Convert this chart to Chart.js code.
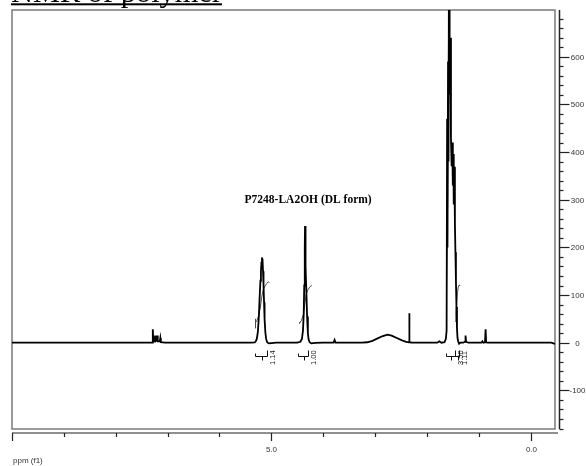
<!DOCTYPE html>
<html>
<head>
<meta charset="utf-8">
<title>NMR of polymer</title>
<script src="https://cdn.jsdelivr.net/npm/chart.js@4.4.1/dist/chart.umd.min.js"></script>
<style>
  html, body { margin: 0; padding: 0; background: #fff; }
  #wrap { width: 586px; height: 466px; position: relative; }
</style>
</head>
<body>
<div id="wrap"><canvas id="nmr"></canvas></div>
<script>
// 1H NMR spectrum: [ppm, intensity]
const spectrum = [
  [10.0, 0], [7.40, 0], [7.30, 0.5], [7.285, 28], [7.275, 2], [7.25, 4], [7.24, 15], [7.23, 3],
  [7.205, 5], [7.20, 15], [7.19, 3], [7.15, 3], [7.14, 10], [7.13, 1], [7.05, 0],
  [5.40, 0], [5.32, 0.5], [5.30, 3], [5.28, 8], [5.26, 22], [5.24, 55], [5.225, 95], [5.21, 130],
  [5.20, 150], [5.19, 168], [5.18, 179], [5.175, 160], [5.17, 176], [5.16, 150], [5.15, 120],
  [5.14, 85], [5.13, 50], [5.115, 22], [5.10, 8], [5.08, 1], [5.05, -1.5], [5.00, -1], [4.90, 0],
  [4.50, 0], [4.44, 2], [4.41, 8], [4.39, 25], [4.375, 60], [4.365, 120], [4.355, 200], [4.35, 245],
  [4.345, 190], [4.34, 230], [4.335, 160], [4.325, 110], [4.31, 55], [4.295, 20], [4.28, 6],
  [4.26, 1], [4.23, -1.5], [4.15, -0.5], [4.0, 0],
  [3.80, 0], [3.78, 6], [3.76, 0],
  [3.25, 0], [3.15, 1], [3.05, 4], [2.95, 9], [2.85, 14], [2.76, 17], [2.68, 15], [2.58, 10],
  [2.48, 5], [2.40, 2], [2.345, 1], [2.340, 62], [2.335, 1], [2.30, 0.5], [2.0, 0],
  [1.80, 0], [1.76, 3], [1.72, 0], [1.66, 1], [1.635, 8], [1.62, 25], [1.61, 470], [1.603, 200],
  [1.592, 590], [1.583, 380], [1.572, 950], [1.562, 520], [1.548, 640], [1.536, 430], [1.523, 370],
  [1.512, 420], [1.500, 330], [1.492, 396], [1.482, 290], [1.470, 369], [1.460, 250], [1.450, 190],
  [1.440, 130], [1.430, 75], [1.420, 30], [1.410, 10], [1.395, 2], [1.38, -2], [1.36, 0],
  [1.30, 0], [1.265, 2], [1.255, 15], [1.245, 2], [1.20, 0],
  [0.95, 0], [0.93, 3], [0.91, 0], [0.88, 1], [0.868, 28], [0.858, 1], [0.83, 0],
  [-0.40, 0], [-0.45, -2], [-0.47, -2]
];

// integral curves
const integralA = [[5.305, 30], [5.305, 50], [5.305, 42], [5.28, 46], [5.24, 58], [5.21, 75], [5.19, 92],
  [5.17, 105], [5.15, 113], [5.12, 119], [5.09, 124], [5.07, 127], [5.05, 127.5], [5.035, 126]];
const integralB = [[4.46, 40], [4.44, 42], [4.46, 42], [4.42, 46], [4.38, 60], [4.35, 85], [4.33, 100],
  [4.30, 110], [4.27, 115], [4.25, 118], [4.23, 120], [4.215, 119]];
const integralC = [[1.625, 30], [1.625, 50], [1.625, 42], [1.615, 110], [1.60, 300], [1.585, 600], [1.57, 950]];
const integralD = [[1.455, 45], [1.44, 62], [1.425, 85], [1.41, 105], [1.395, 117], [1.38, 121], [1.365, 120]];

// integration brackets under the baseline
const intStart = [5.31, 4.48, 1.625, 1.45];
const intEnd = [5.085, 4.29, 1.45, 1.38];
const intLabels = ['1.14', '1.00', '3.50', '1.11'];

// axes
const ppmTicks = [10, 9, 8, 7, 6, 5, 4, 3, 2, 1, 0];
const ppmLabels = [5, 0];
const yLabels = [-100, 0, 100, 200, 300, 400, 500, 600];
const yMinorStep = 20;

const sampleName = 'P7248-LA2OH (DL form)';
const sampleAt = [4.29, 300];

const toXY = pts => pts.map(p => ({ x: p[0], y: p[1] }));

function seg(ctx, x1, y1, x2, y2) {
  ctx.beginPath();
  ctx.moveTo(x1, y1);
  ctx.lineTo(x2, y2);
  ctx.stroke();
}

const decor = {
  id: 'decor',
  beforeDatasetsDraw(chart) {
    const { ctx, chartArea: a } = chart;
    ctx.save();
    ctx.strokeStyle = '#7a7a7a';
    ctx.lineWidth = 1.5;
    ctx.strokeRect(a.left, a.top, a.right - a.left, a.bottom - a.top);
    ctx.restore();
  },
  afterDatasetsDraw(chart) {
    const { ctx, chartArea: a, scales: { x, y } } = chart;
    ctx.save();

    // title, mostly cut off at the top of the picture
    ctx.fillStyle = '#000';
    ctx.font = '30px "Liberation Serif"';
    const tw = ctx.measureText('NMR of polymer').width;
    ctx.font = (30 * 211 / tw).toFixed(1) + 'px "Liberation Serif"';
    ctx.textAlign = 'left';
    ctx.textBaseline = 'alphabetic';
    ctx.fillText('NMR of polymer', 11, 1.5);
    ctx.fillRect(11, 3.3, 211, 2);

    // bottom ppm axis
    const axY = a.bottom + 4;
    ctx.strokeStyle = '#222';
    ctx.lineWidth = 1.2;
    seg(ctx, a.left, axY, a.right + 3, axY);
    ctx.fillStyle = '#333';
    ctx.font = '8px "Liberation Sans"';
    ctx.textAlign = 'center';
    ctx.textBaseline = 'middle';
    ppmTicks.forEach(v => {
      const px = Math.round(x.getPixelForValue(v)) + 0.5;
      const major = v % 5 === 0;
      seg(ctx, px, axY, px, axY + (major ? 8 : 4));
      if (ppmLabels.includes(v)) ctx.fillText(v.toFixed(1), px, axY + 17);
    });
    ctx.textAlign = 'left';
    ctx.fillText('ppm (f1)', 13, 461);

    // right intensity axis
    const axX = a.right + 4.5;
    ctx.lineWidth = 1.5;
    seg(ctx, axX, a.top, axX, a.bottom);
    ctx.lineWidth = 1.2;
    ctx.textAlign = 'center';
    for (let v = -180; v <= 690; v += yMinorStep) {
      const py = Math.round(y.getPixelForValue(v)) + 0.5;
      const major = yLabels.includes(v);
      seg(ctx, axX, py, axX + (major ? 10 : 4), py);
      if (major) ctx.fillText(String(v), axX + 18, py);
    }

    // integration brackets and values
    ctx.strokeStyle = '#111';
    ctx.lineWidth = 1;
    ctx.fillStyle = '#222';
    ctx.font = '7.5px "Liberation Sans"';
    intLabels.forEach((lab, i) => {
      const x1 = Math.round(x.getPixelForValue(intStart[i])) + 0.5;
      const x2 = Math.round(x.getPixelForValue(intEnd[i])) + 0.5;
      const xm = Math.round((x1 + x2) / 2) + 0.5;
      const by = 356.5;
      seg(ctx, x1, by - 3, x1, by);
      seg(ctx, x1, by, x2, by);
      seg(ctx, x2, by - 6, x2, by);
      seg(ctx, xm, by, xm, by + 4);
      ctx.save();
      ctx.translate(x2 + 5, 365);
      ctx.rotate(-Math.PI / 2);
      ctx.textAlign = 'left';
      ctx.textBaseline = 'middle';
      ctx.fillText(lab, 0, 0);
      ctx.restore();
    });

    // sample name
    ctx.fillStyle = '#000';
    ctx.font = 'bold 11.5px "Liberation Serif"';
    ctx.textAlign = 'center';
    ctx.textBaseline = 'middle';
    ctx.fillText(sampleName, x.getPixelForValue(sampleAt[0]), y.getPixelForValue(sampleAt[1]));

    ctx.restore();
  }
};

const integralStyle = { borderColor: '#4a4a4a', borderWidth: 1, pointRadius: 0, tension: 0, fill: false };

new Chart(document.getElementById('nmr'), {
  type: 'line',
  data: {
    datasets: [
      { label: 'spectrum', data: toXY(spectrum), borderColor: '#000', borderWidth: 1.8, pointRadius: 0, tension: 0, fill: false },
      { label: 'int A', data: toXY(integralA), ...integralStyle },
      { label: 'int B', data: toXY(integralB), ...integralStyle },
      { label: 'int C', data: toXY(integralC), ...integralStyle },
      { label: 'int D', data: toXY(integralD), ...integralStyle }
    ]
  },
  options: {
    responsive: true,
    maintainAspectRatio: false,
    animation: false,
    parsing: false,
    layout: { padding: { left: 12, top: 10, right: 31, bottom: 37 } },
    plugins: { legend: { display: false }, tooltip: { enabled: false } },
    scales: {
      x: { type: 'linear', reverse: true, min: -0.47, max: 10.0, display: false },
      y: { type: 'linear', min: -181, max: 698, display: false }
    }
  },
  plugins: [decor]
});
</script>
</body>
</html>
